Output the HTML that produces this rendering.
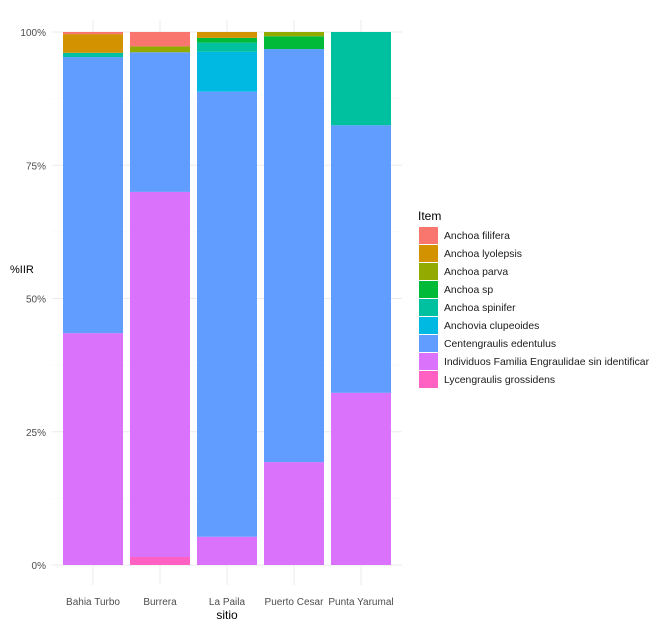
<!DOCTYPE html>
<html><head><meta charset="utf-8"><style>
body{margin:0;background:#fff;font-family:"Liberation Sans",Arial,sans-serif}
svg text{font-family:"Liberation Sans",Arial,sans-serif}
</style></head><body>
<svg id="c" width="660" height="627" xmlns="http://www.w3.org/2000/svg"></svg>
<script>
const sites = ["Bahia Turbo","Burrera","La Paila","Puerto Cesar","Punta Yarumal"];
const items = ["Anchoa filifera","Anchoa lyolepsis","Anchoa parva","Anchoa sp","Anchoa spinifer","Anchovia clupeoides","Centengraulis edentulus","Individuos Familia Engraulidae sin identificar","Lycengraulis grossidens"];
const colors = ["#F8766D","#D39200","#93AA00","#00BA38","#00C19F","#00B9E3","#619CFF","#DB72FB","#FF61C3"];
// values per item (rows) per site (columns), percent
const filifera   = [0.4, 2.7, 0, 0, 0];
const lyolepsis  = [3.5, 0, 1.1, 0, 0];
const parva      = [0, 1.1, 0, 0.8, 0];
const anchoaSp   = [0, 0, 0.9, 2.4, 0];
const spinifer   = [0.8, 0, 1.7, 0, 17.5];
const clupeoides = [0, 0, 7.5, 0, 0];
const centen     = [51.8, 26.2, 83.5, 77.5, 50.2];
const individuos = [43.5, 68.5, 5.3, 19.3, 32.3];
const lycen      = [0, 1.5, 0, 0, 0];
const series = [filifera,lyolepsis,parva,anchoaSp,spinifer,clupeoides,centen,individuos,lycen];
const yTicks = [0,25,50,75,100];
const yLabels = ["0%","25%","50%","75%","100%"];

const NS="http://www.w3.org/2000/svg", svg=document.getElementById('c');
function el(t,a,p){const e=document.createElementNS(NS,t);for(const k in a)e.setAttribute(k,a[k]);(p||svg).appendChild(e);return e;}
const y0=565,y1=32; const y=v=>y0-(y0-y1)*v/100;
const bx0=63, step=67, bw=60; const x=i=>bx0+i*step;
// grid
for(let i=0;i<yTicks.length;i++){
  const g=el('line',{x1:52,x2:402,y1:y(yTicks[i]),y2:y(yTicks[i]),stroke:'#ebebeb','stroke-width':1});
  
  
  if(i<yTicks.length-1){const m=el('line',{x1:52,x2:402,y1:y((yTicks[i]+yTicks[i+1])/2),y2:y((yTicks[i]+yTicks[i+1])/2),stroke:'#f4f4f4','stroke-width':0.6});
  
  }
  const t=el('text',{x:46,y:y(yTicks[i])+4,'text-anchor':'end','font-size':10,fill:'#4d4d4d'});t.textContent=yLabels[i];
  
  
}
for(let i=0;i<sites.length;i++){
  const g=el('line',{x1:x(i)+bw/2,x2:x(i)+bw/2,y1:20,y2:585,stroke:'#ebebeb','stroke-width':1});
  
  
}
// bars: stack from bottom, last item at bottom
for(let i=0;i<sites.length;i++){
  let cum=0;
  for(let s=series.length-1;s>=0;s--){
    const v=series[s][i]; if(!v)continue;
    const r=el('rect',{x:x(i),y:y(cum+v),width:bw,height:y(cum)-y(cum+v),fill:colors[s]});
    
    
    cum+=v;
  }
  const t=el('text',{x:x(i)+bw/2,y:605,'text-anchor':'middle','font-size':10,fill:'#4d4d4d'});t.textContent=sites[i];
  
  
}
const xt=el('text',{x:227,y:619,'text-anchor':'middle','font-size':12,fill:'#000'});xt.textContent='sitio';


const yt=el('text',{x:10,y:273,'font-size':11,fill:'#000'});yt.textContent='%IIR';


// legend
const lt=el('text',{x:418,y:220,'font-size':12,fill:'#000'});lt.textContent='Item';


for(let s=0;s<items.length;s++){
  const r=el('rect',{x:419,y:227+s*18,width:19,height:17,fill:colors[s]});
  
  
  const t=el('text',{x:444,y:239+s*18,'font-size':10.4,fill:'#1a1a1a'});t.textContent=items[s];
  
  
}
</script>
</body></html>
